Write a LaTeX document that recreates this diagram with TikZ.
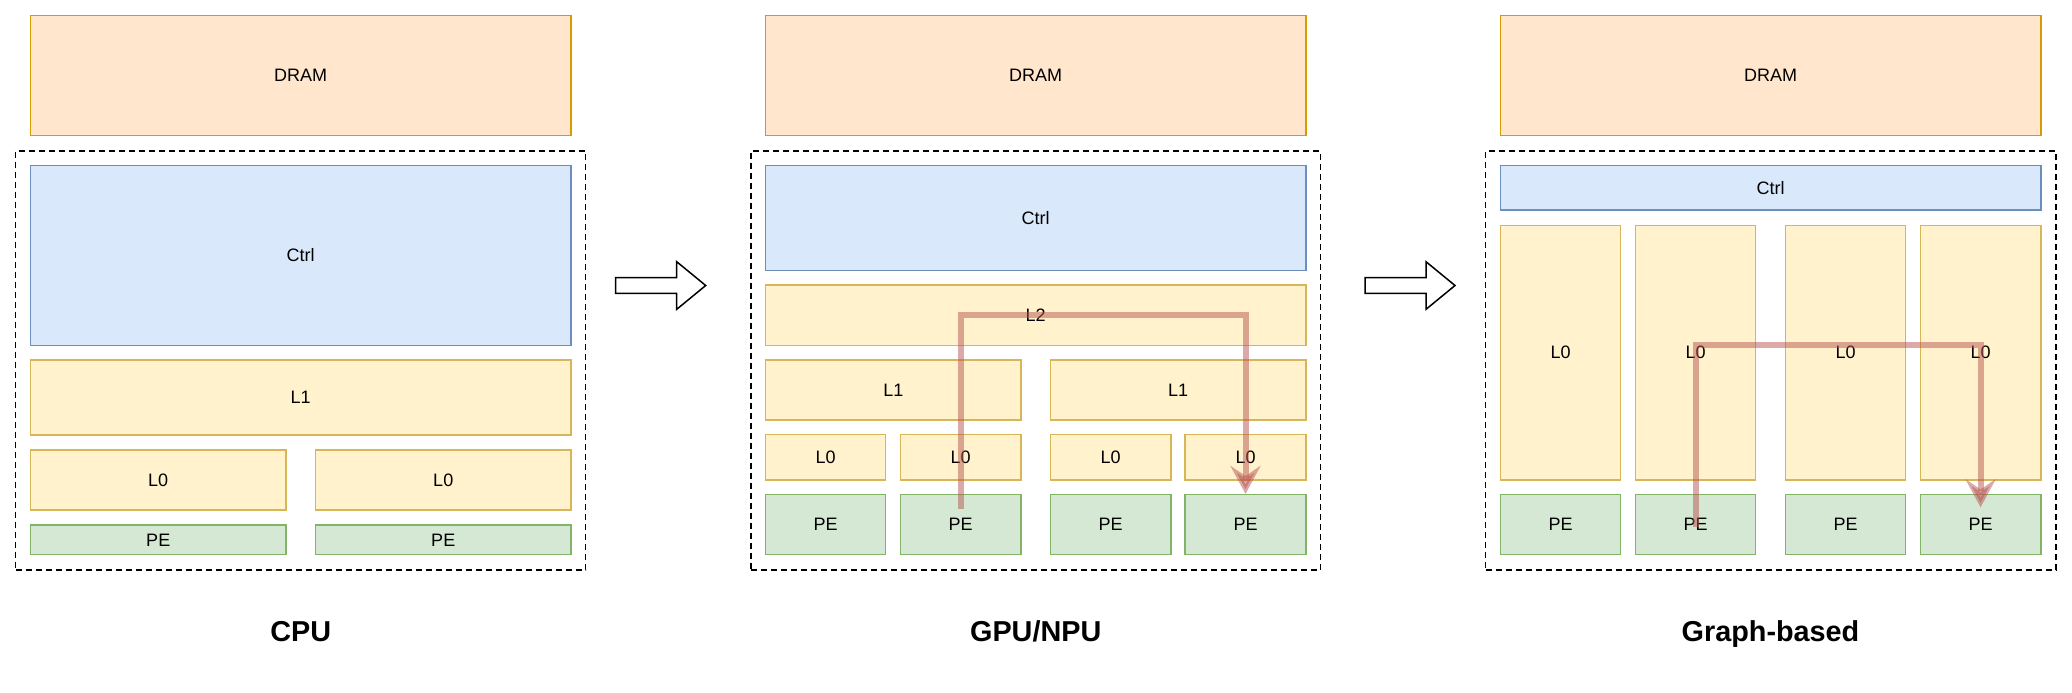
\documentclass[tikz,border=0pt]{standalone}
\usepackage{fontspec}
\setmainfont{Liberation Sans}
\usepackage{tikz}
\usetikzlibrary{arrows.meta}

\definecolor{dramfill}{HTML}{FFE6CC}
\definecolor{dramline}{HTML}{D79B00}
\definecolor{ctrlfill}{HTML}{DAE8FC}
\definecolor{ctrlline}{HTML}{6C8EBF}
\definecolor{cachefill}{HTML}{FFF2CC}
\definecolor{cacheline}{HTML}{D6B656}
\definecolor{pefill}{HTML}{D5E8D4}
\definecolor{peline}{HTML}{82B366}
\definecolor{flowred}{HTML}{B85450}

\begin{document}
\begin{tikzpicture}[x=0.5pt, y=-0.5pt,
    every node/.style={font=\fontsize{9}{11}\selectfont},
    span/.style n args={4}{at={({(#1+#3)/2},{(#2+#4)/2})},
      minimum width={(#3-#1)*0.5pt}, minimum height={(#4-#2)*0.5pt}},
    blk/.style={rectangle, inner sep=0pt, line width=0.75pt},
    dram/.style={blk, draw=dramline, fill=dramfill},
    ctrl/.style={blk, draw=ctrlline, fill=ctrlfill},
    cache/.style={blk, draw=cacheline, fill=cachefill},
    pe/.style={blk, draw=peline, fill=pefill},
    chip/.style={blk, draw=black, dash pattern=on 3pt off 2pt},
    title/.style={anchor=base, font=\fontsize{14.4}{17}\selectfont\bfseries},
    flow/.style={draw=flowred, line width=3pt, opacity=0.5,
      -{Stealth[length=14pt, width=15pt, inset=5pt]}},
    hollow/.style={draw=black, fill=white, line width=0.75pt}]
  \useasboundingbox (0,0) rectangle (2072,692);

  % CPU
  \node[chip, span={15.6}{150.9}{585.7}{570}] (c-chip) {};
  \node[dram, span={30.4}{15.7}{570.9}{135.6}] (c-dram) {DRAM};
  \node[ctrl, span={30.4}{165.4}{570.9}{345.3}] (c-ctrl) {Ctrl};
  \node[cache, span={30.4}{360.2}{570.9}{435.1}] (c-l1) {L1};
  \foreach \i/\xa/\xb in {1/30.4/286.1, 2/315.6/570.9} {
    \node[cache, span={\xa}{450}{\xb}{510}] (c-l0-\i) {L0};
    \node[pe, span={\xa}{524.9}{\xb}{554.7}] (c-pe-\i) {PE};
  }
  \node[title] (c-title) at (300.7,641) {CPU};

  % GPU/NPU
  \node[chip, span={750.9}{150.9}{1320.5}{570}] (g-chip) {};
  \node[dram, span={765.6}{15.7}{1305.8}{135.6}] (g-dram) {DRAM};
  \node[ctrl, span={765.6}{165.4}{1305.8}{270.5}] (g-ctrl) {Ctrl};
  \node[cache, span={765.6}{285}{1305.8}{345.3}] (g-l2) {L2};
  \node[cache, span={765.6}{360.2}{1021}{420.2}] (g-l1-1) {L1};
  \node[cache, span={1050.4}{360.2}{1305.8}{420.2}] (g-l1-2) {L1};
  \foreach \i/\xa/\xb in {1/765.6/885.7, 2/900.4/1021, 3/1050.4/1171, 4/1185.2/1305.8} {
    \node[cache, span={\xa}{434.7}{\xb}{479.8}] (g-l0-\i) {L0};
    \node[pe, span={\xa}{494.7}{\xb}{554.7}] (g-pe-\i) {PE};
  }
  \node[title] (g-title) at (1035.7,641) {GPU/NPU};
  \draw[flow] ([yshift=7.7pt]g-pe-2.center) -- (g-pe-2 |- g-l2) -| (g-pe-4.north);

  % Graph-based
  \node[chip, span={1485.7}{150.9}{2055.8}{570}] (r-chip) {};
  \node[dram, span={1500.3}{15.7}{2040.8}{135.6}] (r-dram) {DRAM};
  \node[ctrl, span={1500.3}{165.4}{2040.8}{210.1}] (r-ctrl) {Ctrl};
  \foreach \i/\xa/\xb in {1/1500.3/1620.7, 2/1635.3/1755.7, 3/1785.3/1905.7, 4/1920.3/2040.8} {
    \node[cache, span={\xa}{225.4}{\xb}{479.8}] (r-l0-\i) {L0};
    \node[pe, span={\xa}{494.7}{\xb}{554.7}] (r-pe-\i) {PE};
  }
  \node[title] (r-title) at (1770.5,641) {Graph-based};
  \draw[flow] ([yshift=-1.2pt]r-pe-2.center) -- ([yshift=3.8pt]r-l0-2.center) -| ([yshift=-6.7pt]r-pe-4.north);

  % block arrows
  \foreach \ax in {615.7, 1365} {
    \draw[hollow] (\ax,277.7) -- ++(61,0) -- ++(0,-16) -- ++(29,23.8)
      -- ++(-29,23.8) -- ++(0,-16) -- ++(-61,0) -- cycle;
  }
\end{tikzpicture}
\end{document}
